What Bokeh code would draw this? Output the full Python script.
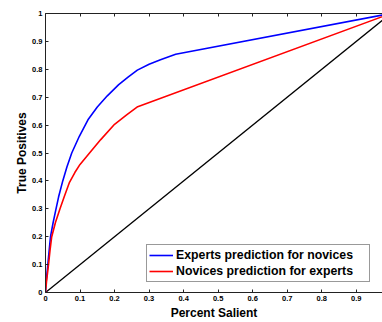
from bokeh.plotting import figure
from bokeh.models import LinearAxis, FixedTicker, Legend, LegendItem, Range1d
from bokeh.embed import file_html
from bokeh.resources import INLINE

# data
expert_x = [0, 0.002, 0.0067, 0.0145, 0.022, 0.03, 0.038, 0.05, 0.062, 0.076, 0.098, 0.123,
            0.15, 0.179, 0.212, 0.24, 0.266, 0.3, 0.333, 0.377, 1.0]
expert_y = [0, 0.04, 0.1, 0.2, 0.25, 0.297, 0.343, 0.4, 0.45, 0.5, 0.56, 0.619,
            0.665, 0.705, 0.745, 0.773, 0.797, 0.818, 0.834, 0.854, 1.0]
novice_x = [0, 0.003, 0.0087, 0.013, 0.018, 0.029, 0.042, 0.055, 0.0695, 0.085, 0.1,
            0.1275, 0.16, 0.2, 0.235, 0.267, 1.0]
novice_y = [0, 0.04, 0.1, 0.15, 0.2, 0.252, 0.3, 0.346, 0.395, 0.43, 0.459,
            0.5, 0.548, 0.603, 0.637, 0.666, 1.0]
chance_x = [0, 1]
chance_y = [0, 1]
ticks = [0, 0.1, 0.2, 0.3, 0.4, 0.5, 0.6, 0.7, 0.8, 0.9, 1]
labels = ["Experts prediction for novices", "Novices prediction for experts"]
x_title = "Percent Salient"
y_title = "True Positives"

FONT = "Liberation Sans"

p = figure(width=382, height=322, output_backend="svg", toolbar_location=None,
           x_range=Range1d(0, 0.976), y_range=Range1d(0, 1),
           min_border_left=45, min_border_right=0, min_border_top=13, min_border_bottom=29,
           x_axis_label=x_title, y_axis_label=y_title)
p.outline_line_color = None
p.grid.visible = False
p.background_fill_color = "white"
p.border_fill_color = "white"

for ax in (p.xaxis[0], p.yaxis[0]):
    ax.ticker = FixedTicker(ticks=ticks)
    ax.major_label_overrides = {0: "0", 1: "1"}
    ax.major_tick_in = 3
    ax.major_tick_out = 0
    ax.minor_tick_line_color = None
    ax.axis_line_color = "#222222"
    ax.major_tick_line_color = "#222222"
    ax.major_label_text_font = FONT
    ax.major_label_text_font_style = "bold"
    ax.major_label_text_font_size = "7.5px"
    ax.major_label_text_color = "black"
    ax.axis_label_text_font = FONT
    ax.axis_label_text_font_style = "bold"
    ax.axis_label_text_font_size = "12px"
    ax.axis_label_text_color = "black"
p.xaxis[0].major_label_standoff = 3
p.xaxis[0].axis_label_standoff = 2
p.yaxis[0].major_label_standoff = 3
p.yaxis[0].axis_label_standoff = 0

top = LinearAxis(ticker=FixedTicker(ticks=ticks), major_label_text_font_size="1px",
                 major_label_text_alpha=0, major_tick_in=3, major_tick_out=0,
                 minor_tick_line_color=None, axis_line_color="#222222",
                 major_tick_line_color="#222222", major_label_standoff=0)
p.add_layout(top, "above")

p.line(chance_x, chance_y, line_color="black", line_width=1.3)
r_exp = p.line(expert_x, expert_y, line_color="#0000ff", line_width=1.6)
r_nov = p.line(novice_x, novice_y, line_color="#ff0000", line_width=1.6)

legend = Legend(items=[LegendItem(label=labels[0], renderers=[r_exp]),
                       LegendItem(label=labels[1], renderers=[r_nov])],
                location=(101, 10), padding=2, spacing=0, margin=0,
                label_height=16, label_width=191, glyph_width=24, glyph_height=16,
                label_standoff=3, label_text_font=FONT, label_text_font_style="bold",
                label_text_font_size="12.3px", label_text_color="black",
                border_line_color="#333333", border_line_width=1,
                background_fill_color="white", background_fill_alpha=1)
p.add_layout(legend, "center")

open("out.html", "w").write(file_html(p, INLINE))
